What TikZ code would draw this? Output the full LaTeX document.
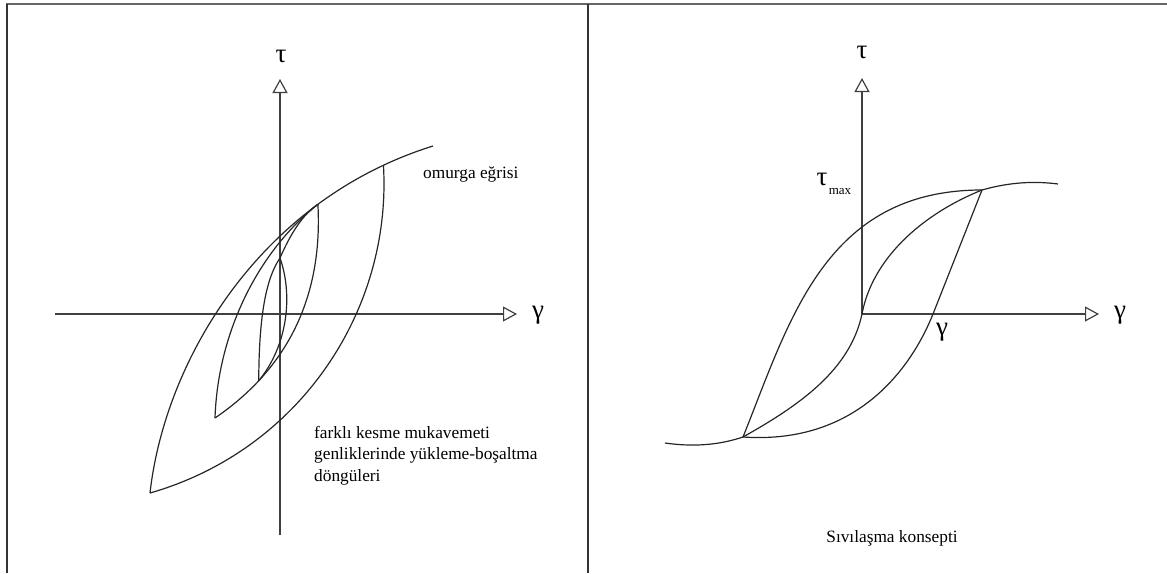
\documentclass[tikz,border=0pt]{standalone}
\usepackage{fontspec}
\setmainfont{Liberation Serif}
\usetikzlibrary{arrows.meta}
\begin{document}
\begin{tikzpicture}[x=1pt,y=-1pt,
  curve/.style={line width=1.2pt, draw=black!85, line join=round},
  axis/.style={line width=1.2pt, draw=black!75, -{Triangle[open,length=14pt,width=15pt]}},
  frame/.style={line width=1.3pt, draw=black!80},
  lbl/.style={inner sep=0pt, font=\fontsize{17.3}{21.5}\selectfont},
  greek/.style={inner sep=0pt, font=\fontsize{27}{28}\selectfont}]
\useasboundingbox (0,0) rectangle (1167,573);
% frame
\coordinate (fTL) at (6,4);
\coordinate (fTR) at (1167,4);
\coordinate (fLT) at (7,4);
\coordinate (fBL) at (7,573);
\coordinate (dT) at (588,4);
\coordinate (dB) at (588,573);
\draw[frame, draw=black!60, line width=2pt] (fTL) -- (fTR);
\draw[frame] (fLT) -- (fBL);
\draw[frame] (dT) -- (dB);

% ---------- left plot ----------
\coordinate (Lx0) at (55,314);
\coordinate (Lx1) at (517,314);
\coordinate (Ly0) at (280,535);
\coordinate (Ly1) at (280,79);
\draw[axis] (Lx0) -- (Lx1);
\draw[axis] (Ly0) -- (Ly1);
\node[greek] (Ltau) at (281,56) {τ};
\node[greek] (Lgam) at (538,315) {γ};

% backbone (with loop tips on it)
\coordinate (bA) at (150,493);
\coordinate (bE) at (433,146);
\draw[curve] (bA) .. controls (165,360) and (260,200) .. coordinate[pos=0.75] (mTip) coordinate[pos=0.9] (lTip) (bE);
% large loop lower branch
\draw[curve] (bA) .. controls (300,450) and (392,310) .. (lTip);
% middle loop
\coordinate (mBot) at (215,418);
\draw[curve] (mBot) .. controls (218,330) and (260,250) .. (mTip);
\draw[curve] (mBot) .. controls (300,360) and (322,280) .. coordinate[pos=0.2] (sBot) (mTip);
% small loop
\coordinate (sTop) at (280,258);
\draw[curve] (sBot) .. controls (259,320) and (265,280) .. (sTop);
\draw[curve] (sTop) .. controls (293,295) and (288,345) .. (sBot);
\draw[curve] (sTop) .. controls (290,235) and (302,215) .. (mTip);

\node[lbl, anchor=west] (Lomurga) at (423,174) {omurga eğrisi};
\node[lbl, anchor=north west, align=left] (Ltext) at (314,426) {farklı kesme mukavemeti\\genliklerinde yükleme-boşaltma\\döngüleri};

% ---------- right plot ----------
\coordinate (R0) at (862,314);
\coordinate (Rx1) at (1099,314);
\coordinate (Ry1) at (862,78);
\draw[axis] (R0) -- (Rx1);
\draw[axis] (R0) -- (Ry1);
\node[greek] (Rtau) at (862,52) {τ};
\node[greek] (Rgam) at (1120,315) {γ};
\node[greek] (Rgam2) at (942,332) {γ};
\node[greek] (Rtmax) at (822,179) {τ};
\node[inner sep=0pt, font=\fontsize{13}{14}\selectfont] (Rmax) at (840,191) {max};

\coordinate (P) at (743,437);
\coordinate (Q) at (982,190);
\coordinate (Rc) at (933,314);
% upper (unloading) branch
\draw[curve] (P) .. controls (790,320) and (825,190) .. (Q);
% lower (reloading) branch
\draw[curve] (P) .. controls (860,445) and (913,364) .. (Rc) -- (Q);
% inner S-curve through origin
\draw[curve] (P) .. controls (800,405) and (850,370) .. (R0) .. controls (872,260) and (920,215) .. (Q);
% backbone ends
\coordinate (Bl) at (665,443);
\coordinate (Br) at (1058,184);
\draw[curve] (Bl) .. controls (700,448) and (725,443) .. (P);
\draw[curve] (Q) .. controls (1010,182) and (1035,181) .. (Br);

\node[lbl] (Rtext) at (892,538) {Sıvılaşma konsepti};
\end{tikzpicture}
\end{document}
